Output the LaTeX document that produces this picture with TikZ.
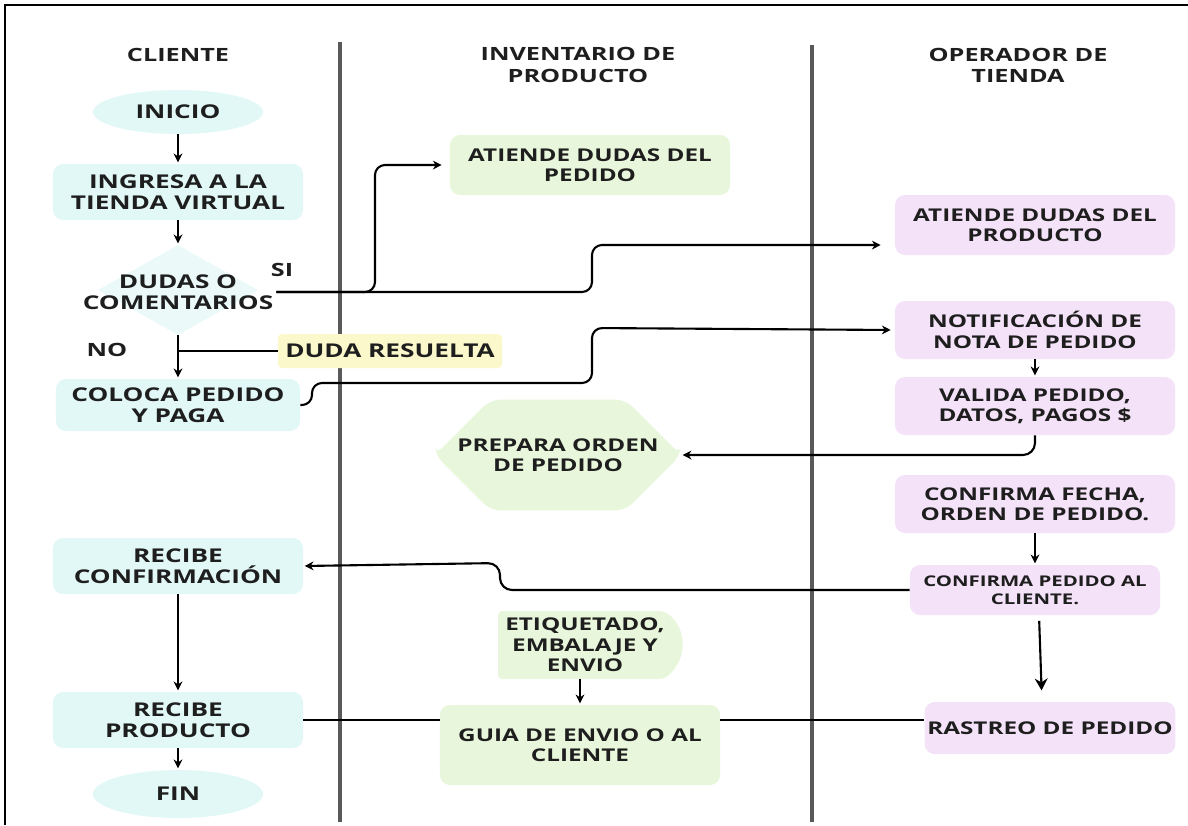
\documentclass[tikz,border=0pt]{standalone}
\usepackage{fontspec}
\setmainfont{Open Sans}[FakeStretch=1.38]
\usetikzlibrary{arrows.meta,shapes.geometric,shapes.misc}

\definecolor{celeste}{RGB}{226,248,247}
\definecolor{verdeclaro}{RGB}{232,247,219}
\definecolor{lila}{RGB}{244,226,248}
\definecolor{amarillo}{RGB}{251,249,203}
\definecolor{texto}{RGB}{30,30,30}

\tikzset{
	caja/.style={rounded corners=0.25cm, align=center, inner sep=2pt, text=texto,
		font=\fontsize{12.5}{14.5}\selectfont\bfseries},
	cliente/.style={caja, fill=celeste, font=\fontsize{13.5}{15}\selectfont\bfseries},
	inventario/.style={caja, fill=verdeclaro},
	operador/.style={caja, fill=lila},
	resuelta/.style={caja, rounded corners=0.1cm, fill=amarillo, font=\fontsize{13.5}{15}\selectfont\bfseries},
	titulo/.style={caja, font=\fontsize{13}{15}\selectfont\bfseries},
	etiqueta/.style={caja, font=\fontsize{13}{15}\selectfont\bfseries},
	carril/.style={line width=2.8pt, black!65},
	flecha/.style={line width=1.5pt, -{Stealth[length=2.2mm,width=2.2mm]}, shorten >=1pt},
	linea/.style={line width=1.2pt}
}

\begin{document}
\begin{tikzpicture}[x=0.025cm, y=-0.025cm]
	\useasboundingbox (0,0) rectangle (1188,825);
	\draw[line width=1.6pt] (5,825) -- (5,5) -- (1188,5);
	\draw[carril] (340,42) -- (340,822);
	\draw[carril] (812,45) -- (812,822);

	% carriles
	\node[titulo] (tcliente) at (178,55) {CLIENTE};
	\node[titulo] (tinventario) at (578,65) {INVENTARIO DE\\PRODUCTO};
	\node[titulo] (toperador) at (1018,65) {OPERADOR DE\\TIENDA};

	% cliente
	\node[cliente, ellipse, minimum width=4.25cm, minimum height=1.1cm] (inicio) at (178,112) {INICIO};
	\node[cliente, minimum width=6.25cm, minimum height=1.4cm] (ingresa) at (178,192) {INGRESA A LA\\TIENDA VIRTUAL};
	\node[diamond, fill=celeste!70, minimum width=4cm, minimum height=2.25cm, inner sep=0pt] (rombo) at (178,290) {};
	\node[caja, font=\fontsize{13.5}{15}\selectfont\bfseries] (dudas) at (178,292) {DUDAS O\\COMENTARIOS};
	\node[etiqueta] (si) at (282,270) {SI};
	\node[etiqueta] (no) at (107,350) {NO};
	\node[resuelta, minimum width=5.6cm, minimum height=0.85cm] (resuelta) at (390,351) {DUDA RESUELTA};
	\node[cliente, minimum width=6.1cm, minimum height=1.3cm] (coloca) at (178,405) {COLOCA PEDIDO\\Y PAGA};
	\node[cliente, minimum width=6.25cm, minimum height=1.4cm] (confirmacion) at (178,566) {RECIBE\\CONFIRMACIÓN};
	\node[cliente, minimum width=6.25cm, minimum height=1.4cm] (recibeprod) at (178,720) {RECIBE\\PRODUCTO};
	\node[cliente, ellipse, minimum width=4.25cm, minimum height=1.2cm] (fin) at (178,794) {FIN};

	% inventario
	\node[inventario, minimum width=7cm, minimum height=1.5cm] (dpedido) at (590,165) {ATIENDE DUDAS DEL\\PEDIDO};
	\node[inventario, chamfered rectangle, chamfered rectangle xsep=0.8cm, chamfered rectangle ysep=0.9cm,
		minimum width=5.3cm, minimum height=2.25cm] (prepara) at (558,455) {PREPARA ORDEN\\DE PEDIDO};
	\node[inventario, rounded rectangle, rounded rectangle left arc=none, rounded rectangle arc length=120,
		rounded corners=0.1cm, minimum width=4.75cm, minimum height=1.7cm] (etiquetado) at (585,645) {ETIQUETADO,\\EMBALAJE Y\\ENVIO};
	\node[inventario, minimum width=7cm, minimum height=2cm] (guia) at (580,745) {GUIA DE ENVIO O AL\\CLIENTE};

	% operador
	\node[operador, minimum width=7cm, minimum height=1.5cm] (dproducto) at (1035,225) {ATIENDE DUDAS DEL\\PRODUCTO};
	\node[operador, minimum width=7cm, minimum height=1.45cm] (notif) at (1035,330) {NOTIFICACIÓN DE\\NOTA DE PEDIDO};
	\node[operador, minimum width=7cm, minimum height=1.45cm] (valida) at (1035,406) {VALIDA PEDIDO,\\DATOS, PAGOS \$};
	\node[operador, minimum width=7cm, minimum height=1.45cm] (fecha) at (1035,504) {CONFIRMA FECHA,\\ORDEN DE PEDIDO.};
	\node[operador, minimum width=6.25cm, minimum height=1.25cm, font=\fontsize{10.5}{12.5}\selectfont\bfseries] (aviso) at (1035,590) {CONFIRMA PEDIDO AL\\CLIENTE.};
	\node[operador, minimum width=6.25cm, minimum height=1.3cm] (rastreo) at (1050,728) {RASTREO DE PEDIDO};

	% flujo vertical
	\draw[flecha] (inicio) -- (ingresa);
	\draw[flecha] (ingresa) -- (rombo);
	\draw[flecha] (rombo.south) -- (coloca.north);
	\draw[linea] (resuelta.west) -- (resuelta.west -| rombo.south);
	\draw[flecha] (confirmacion) -- (recibeprod);
	\draw[flecha] (recibeprod) -- (fin);
	\draw[flecha] (etiquetado.south -| guia.north) -- (guia.north);
	\draw[flecha] (notif) -- (valida);
	\draw[flecha] (fecha) -- (aviso);
	\draw[line width=1.5pt, -{Stealth[length=3mm,width=3.2mm]}, shorten <=4pt, shorten >=8pt]
		([xshift=0.1cm]aviso.south) -- ([xshift=-0.2cm]rastreo.north);

	% conectores entre carriles
	\draw[flecha, rounded corners=0.25cm, shorten >=0.2cm] (dudas.east) -- (375,292) |- (dpedido.west);
	\draw[flecha, rounded corners=0.25cm, shorten >=0.35cm] (dudas.east) -| (592,245) -- ([yshift=-0.5cm]dproducto.west);
	\draw[flecha, rounded corners=0.25cm, shorten >=0.1cm] (coloca.east) -| (312,383) -| (592,328) -- (notif.west);
	\draw[flecha, rounded corners=0.3cm] (valida.south) |- (prepara.east);
	\draw[flecha, rounded corners=0.3cm] (aviso.west) -| (500,563) -- (confirmacion.east);
	\draw[linea] (recibeprod.east) -- (recibeprod.east -| guia.west);
	\draw[linea] (guia.east |- recibeprod.east) -- (rastreo.west |- recibeprod.east);
\end{tikzpicture}
\end{document}
